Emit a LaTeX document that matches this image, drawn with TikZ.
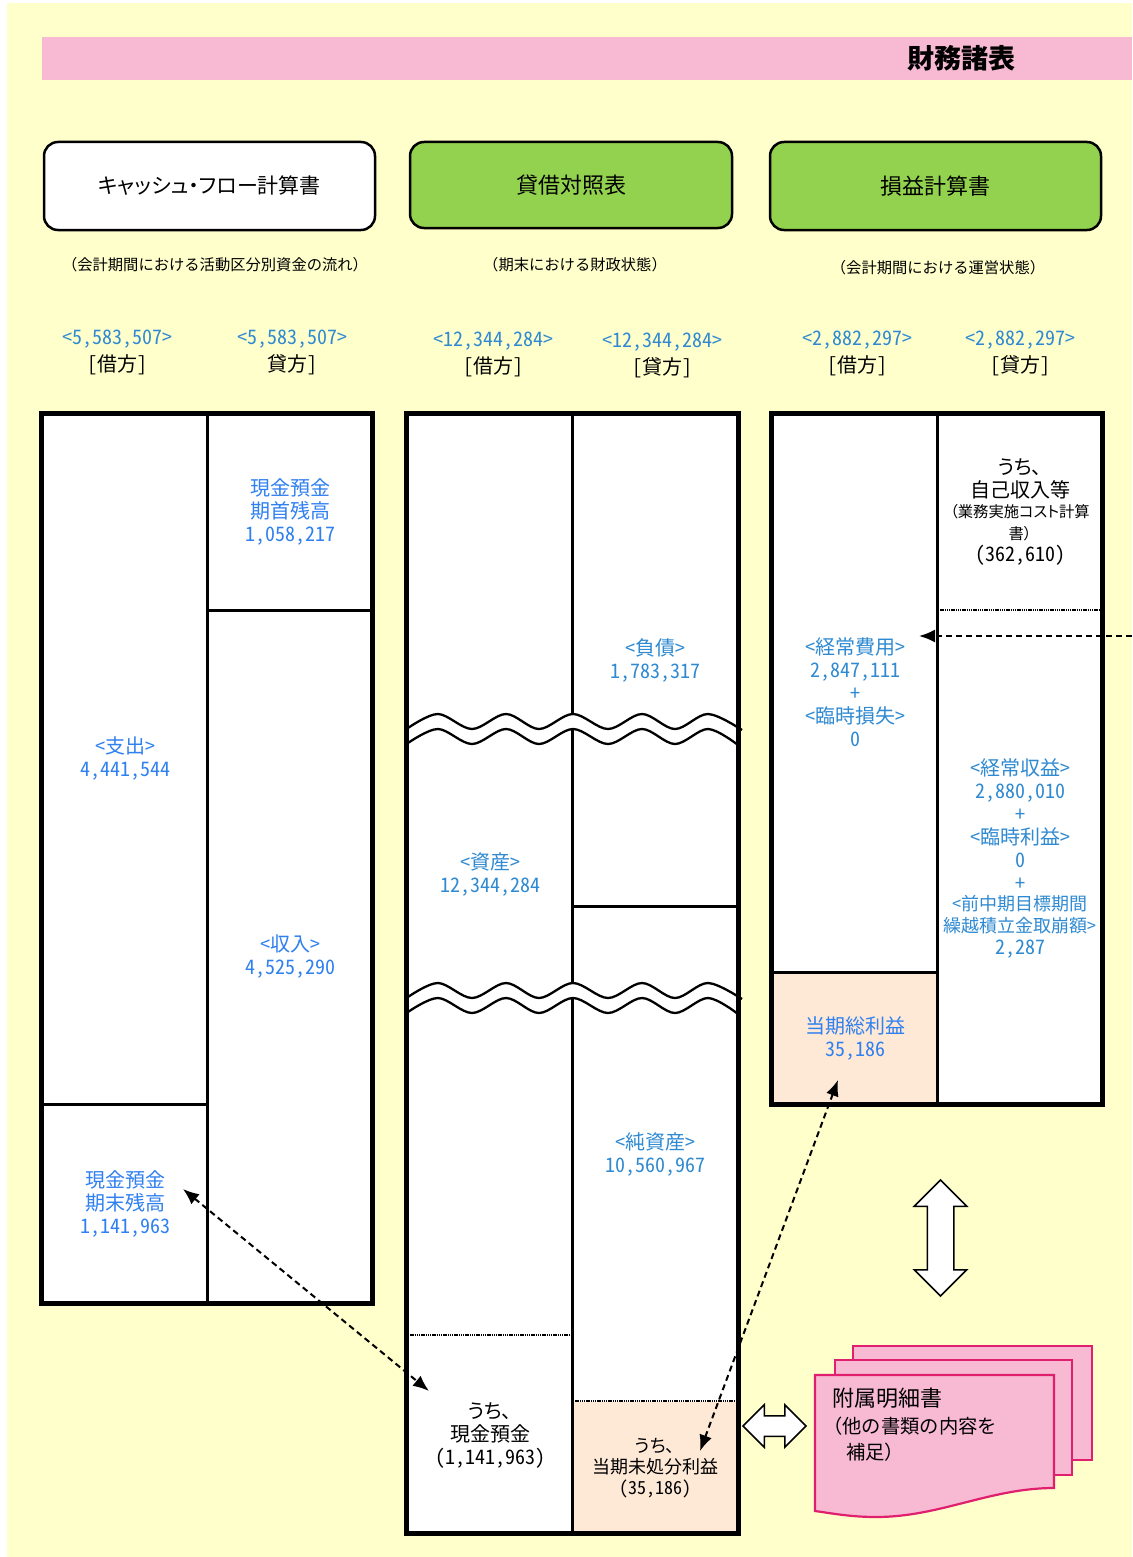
\documentclass[tikz,border=0pt]{standalone}
\usepackage{fontspec}
\usepackage{xcolor}
\usetikzlibrary{arrows.meta}
\usetikzlibrary{shapes.arrows}
\setmainfont[RawFeature=+hwid]{Noto Sans CJK JP}
\newfontfamily\cjkp[RawFeature=+palt]{Noto Sans CJK JP}
\newfontfamily\cjkw{Noto Sans CJK JP}
\definecolor{sheetyellow}{HTML}{FFFFCC}
\definecolor{bandpink}{HTML}{F7BAD2}
\definecolor{boxgreen}{HTML}{92D24E}
\definecolor{cellpeach}{HTML}{FEE8D6}
\definecolor{sheetedge}{HTML}{E0206E}
\definecolor{headblue}{HTML}{2F8AD2}
\definecolor{cellblue}{HTML}{2F80F0}
\tikzset{
	x=1pt, y=-1pt,
	titlebox/.style={draw, line width=2.5pt, rounded corners=14pt, inner sep=0pt},
	note/.style={font=\cjkw\fontsize{15.3}{18}\selectfont, inner sep=0pt},
	amount/.style={color=headblue, font=\fontsize{20}{25}\selectfont, inner sep=0pt},
	side/.style={font=\fontsize{20}{25}\selectfont, inner sep=0pt},
	cell/.style={color=cellblue, align=center, font=\fontsize{20}{23}\selectfont, inner sep=0pt},
	cellblack/.style={align=center, font=\fontsize{20}{23}\selectfont, inner sep=0pt},
	frameline/.style={line width=5pt},
	midline/.style={line width=3pt},
	dotline/.style={line width=2.5pt, dash pattern=on 1.3pt off 0.9pt},
	linkdash/.style={line width=2pt, dash pattern=on 6pt off 4pt},
	linkboth/.style={linkdash, {Latex[length=16pt,width=13pt]}-{Latex[length=16pt,width=13pt]}},
	linkone/.style={linkdash, -{Latex[length=16pt,width=13pt]}},
	bothway/.style={double arrow, draw, fill=white, line width=1.5pt, inner sep=0pt, double arrow tip angle=90},
	sheet/.style={draw=sheetedge, fill=bandpink, line width=2.2pt}
}
\begin{document}
\begin{tikzpicture}
	\useasboundingbox (0,0) rectangle (1132,1557);
	\fill[white] (0,0) rectangle (1132,1557);
	\fill[sheetyellow] (7,3) rectangle (1132,1557);
	\fill[bandpink] (42,37) rectangle (1132,80);
	\node[font=\bfseries\fontsize{27}{30}\selectfont, inner sep=0pt] (title) at (961,58) {財務諸表};

	\node[titlebox, fill=white, minimum width=331pt, minimum height=88pt, font=\cjkp\fontsize{21}{25}\selectfont] (cfbox) at (209.5,186) {キャッシュ・フロー計算書};
	\node[titlebox, fill=boxgreen, minimum width=322pt, minimum height=86pt, font=\fontsize{22}{25}\selectfont] (bsbox) at (571,185) {貸借対照表};
	\node[titlebox, fill=boxgreen, minimum width=331pt, minimum height=88pt, font=\fontsize{22}{25}\selectfont] (plbox) at (935.5,186) {損益計算書};
	\node[note] (cfnote) at (215,264.5) {（会計期間における活動区分別資金の流れ）};
	\node[note] (bsnote) at (575,264.5) {（期末における財政状態）};
	\node[note] (plnote) at (938,267.5) {（会計期間における運営状態）};

	\foreach \nm/\px/\py/\amt/\sd in {cfl/117/339.5/{5,583,507}/{[借方]},cfr/292/339.5/{5,583,507}/{貸方]},bsl/493/341.5/{12,344,284}/{[借方]},bsr/662/342.5/{12,344,284}/{[貸方]},pll/857/340.5/{2,882,297}/{[借方]},plr/1020/340.5/{2,882,297}/{[貸方]}}
	{
		\node[amount] (\nm amt) at (\px,\py) {<\amt>};
		\node[side] (\nm side) at (\px,\py+25.5) {\sd};
	}

	\foreach \tl/\tm/\tr/\tb in {41.5/207.5/372.5/1303,406.5/572/738/1533.5,771/937/1102.5/1104.5}
	{
		\fill[white] (\tl,413) rectangle (\tr,\tb);
	}
	\fill[cellpeach] (572,1402) rectangle (738,1533);
	\fill[cellpeach] (771,972) rectangle (937,1104);
	\foreach \tl/\tm/\tr/\tb in {41.5/207.5/372.5/1303,406.5/572/738/1533.5,771/937/1102.5/1104.5}
	{
		\draw[midline] (\tm,413) -- (\tm,\tb);
	}
	\draw[midline] (207.5,610) -- (372.5,610);
	\draw[midline] (41.5,1104) -- (207.5,1104);
	\draw[midline] (572,906) -- (738,906);
	\draw[midline] (771,972) -- (937,972);
	\draw[dotline] (408,1335) -- (571,1335);
	\draw[dotline] (573,1401) -- (736,1401);
	\draw[dotline] (938,610) -- (1100,610);

	\foreach \wy in {0,269}
	{
		\begin{scope}[yshift=-\wy pt]
			\draw[white, line width=14pt] plot[smooth, tension=0.55] coordinates {(412,735.5) (438,721.5) (472,736.5) (506,721.5) (539,736.5) (573,721.5) (608,736.5) (642,721.5) (675,736.5) (708,721.5) (736,735.5)};
			\draw[line width=2.3pt] plot[smooth, tension=0.55] coordinates {(408,728) (438,714) (472,729) (506,714) (539,729) (573,714) (608,729) (642,714) (675,729) (708,714) (742,730)};
			\draw[line width=2.3pt] plot[smooth, tension=0.55] coordinates {(408,743) (438,729) (472,744) (506,729) (539,744) (573,729) (608,744) (642,729) (675,744) (708,729) (738,745)};
		\end{scope}
	}
	\foreach \tl/\tm/\tr/\tb in {41.5/207.5/372.5/1303,406.5/572/738/1533.5,771/937/1102.5/1104.5}
	{
		\draw[frameline] (\tl,413) rectangle (\tr,\tb);
	}

	\node[cell] (spend) at (125,758) {<支出>\\4,441,544};
	\node[cell] (cashend) at (125,1204) {現金預金\\期末残高\\1,141,963};
	\node[cell] (cashbegin) at (290,511.5) {現金預金\\期首残高\\1,058,217};
	\node[cell] (income) at (290,956.5) {<収入>\\4,525,290};
	\node[cell, color=headblue] (debt) at (655,661) {<負債>\\1,783,317};
	\node[cell, color=headblue] (asset) at (490,874.5) {<資産>\\12,344,284};
	\node[cell, color=headblue] (netasset) at (655,1154.5) {<純資産>\\10,560,967};
	\node[cellblack] (cashpart) at (490,1435.5) {{\cjkp うち、}\\現金預金\\(1,141,963)};
	\node[cellblack, font=\fontsize{18}{21}\selectfont] (surplus) at (655,1468) {{\cjkp うち、}\\当期未処分利益\\(35,186)};
	\node[cell, color=headblue] (expense) at (855,692) {<経常費用>\\2,847,111\\+\\<臨時損失>\\0};
	\node[cell] (profit) at (855,1038.5) {当期総利益\\35,186};
	\node[cellblack, font=\cjkp\fontsize{20}{23}\selectfont] (ownpart) at (1020,467) {うち、};
	\node[cellblack] (ownincome) at (1020,490) {自己収入等};
	\node[cellblack, font=\cjkp\fontsize{15.3}{22}\selectfont] (ownnote) at (1020,522.5) {（業務実施コスト計算\\書）};
	\node[cellblack] (ownvalue) at (1020,555) {(362,610)};
	\node[cell, color=headblue] (revenue) at (1020,825) {<経常収益>\\2,880,010\\+\\<臨時利益>\\0\\+};
	\node[cell, color=headblue, font=\fontsize{18}{22}\selectfont] (carryover) at (1020,915) {<前中期目標期間\\繰越積立金取崩額>};
	\node[cell, color=headblue] (carryvalue) at (1020,949) {2,287};

	\node[bothway, rotate=90, minimum height=116pt, minimum width=51pt, double arrow head extend=13pt] (plarrow) at (940.5,1238) {\rule{0pt}{25pt}};
	\node[bothway, minimum height=63pt, minimum width=41pt, double arrow head extend=11pt] (bsarrow) at (774.5,1426) {\rule{0pt}{19pt}};

	\draw[sheet] (853,1346) rectangle (1092,1460);
	\draw[sheet] (835,1360) rectangle (1072,1475);
	\draw[sheet] (815,1375) -- (1054,1375) -- (1054,1488) .. controls (990,1488) and (940,1517) .. (876,1517) .. controls (850,1517) and (830,1513) .. (815,1511) -- cycle;
	\node[anchor=west, inner sep=0pt, font=\fontsize{22}{25}\selectfont] (annexa) at (832,1398) {附属明細書};
	\node[anchor=west, inner sep=0pt, font=\cjkw\fontsize{19.3}{23}\selectfont] (annexb) at (823,1426) {（他の書類の内容を};
	\node[anchor=west, inner sep=0pt, font=\cjkw\fontsize{19.3}{23}\selectfont] (annexc) at (846,1452) {補足）};

	\coordinate (cashfromlink) at (183,1189);
	\coordinate (cashtolink) at (429,1391);
	\coordinate (profitfromlink) at (700,1451);
	\coordinate (profittolink) at (838,1080);
	\coordinate (costfromlink) at (1132,636);
	\coordinate (costtolink) at (919,636);
	\draw[linkboth] (cashfromlink) -- (cashtolink);
	\draw[linkboth] (profitfromlink) -- (profittolink);
	\draw[linkone] (costfromlink) -- (costtolink);
\end{tikzpicture}
\end{document}
